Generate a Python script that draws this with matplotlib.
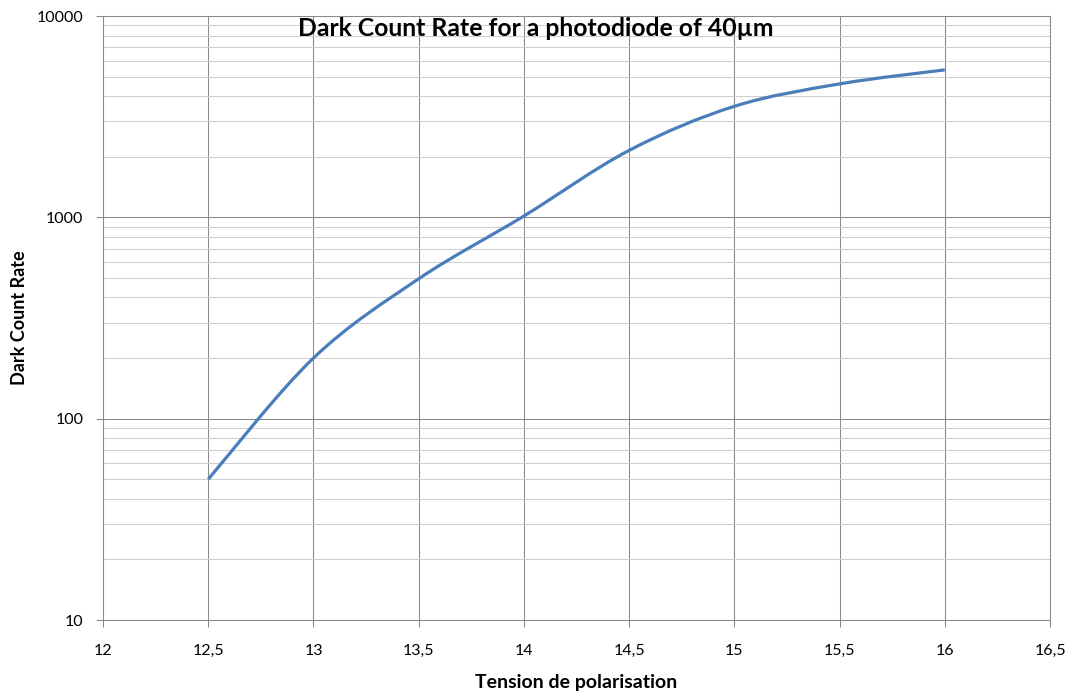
import numpy as np
import matplotlib
matplotlib.use('Agg')
import matplotlib.pyplot as plt
from matplotlib.path import Path
from matplotlib.patches import PathPatch
from matplotlib.ticker import FixedLocator, FuncFormatter, LogLocator, NullFormatter

plt.rcParams['font.family'] = ['Lato', 'DejaVu Sans']

# data
tension = [12.5, 13.0, 13.5, 14.0, 14.5, 15.0, 15.5, 16.0]
dcr = [50, 200, 495, 1015, 2150, 3560, 4600, 5400]

title = 'Dark Count Rate for a photodiode of 40µm'
xlabel = 'Tension de polarisation'
ylabel = 'Dark Count Rate'

grid_major = '#8a8a8a'
grid_minor = '#cfcfcf'
line_col = '#4a7ebb'

fig = plt.figure(figsize=(10.71, 6.98), dpi=100)
ax = fig.add_axes([103/1071, 78/698, 947/1071, 604/698])
ax.set_yscale('log')
ax.set_xlim(12, 16.5)
ax.set_ylim(10, 10000)

# smoothed line like the spreadsheet one (cubic bezier through the points, in log space)
x = np.array(tension, dtype=float)
ly = np.log10(dcr)
n = len(x)
verts = [(x[0], dcr[0])]
codes = [Path.MOVETO]
for i in range(n - 1):
    i0 = max(i - 1, 0)
    i3 = min(i + 2, n - 1)
    c1x = x[i] + (x[i + 1] - x[i0]) / 6
    c1y = ly[i] + (ly[i + 1] - ly[i0]) / 6
    c2x = x[i + 1] - (x[i3] - x[i]) / 6
    c2y = ly[i + 1] - (ly[i3] - ly[i]) / 6
    verts += [(c1x, 10**c1y), (c2x, 10**c2y), (x[i + 1], dcr[i + 1])]
    codes += [Path.CURVE4] * 3
ax.add_patch(PathPatch(Path(verts, codes), facecolor='none', edgecolor=line_col,
                       lw=2.3, capstyle='butt', zorder=3))

# ticks and grid
ax.xaxis.set_major_locator(FixedLocator(np.arange(12, 16.51, 0.5)))
ax.xaxis.set_major_formatter(FuncFormatter(lambda v, p: ('%g' % v).replace('.', ',')))
ax.yaxis.set_major_locator(FixedLocator([10, 100, 1000, 10000]))
ax.yaxis.set_major_formatter(FuncFormatter(lambda v, p: '%d' % v))
ax.yaxis.set_minor_locator(LogLocator(base=10, subs=np.arange(2, 10)))
ax.yaxis.set_minor_formatter(NullFormatter())

ax.grid(True, which='major', color=grid_major, lw=0.75, zorder=1)
ax.grid(True, which='minor', axis='y', color=grid_minor, lw=0.75, zorder=0)
ax.set_axisbelow(True)

for s in ax.spines.values():
    s.set_color(grid_major)
    s.set_linewidth(0.75)

ax.tick_params(which='major', direction='out', length=5, width=0.75, color=grid_major,
               labelsize=11.5, labelcolor='black')
ax.tick_params(axis='x', pad=12)
ax.tick_params(axis='y', pad=9)
ax.tick_params(which='minor', length=0)

fig.text(0.5, 1 - 28/698, title, ha='center', va='center', fontsize=17.8, fontweight='bold')
ax.set_xlabel(xlabel, fontsize=14, fontweight='bold', labelpad=12)
ax.set_ylabel(ylabel, fontsize=13, fontweight='bold', labelpad=6)

fig.savefig('out.png', dpi=100)
